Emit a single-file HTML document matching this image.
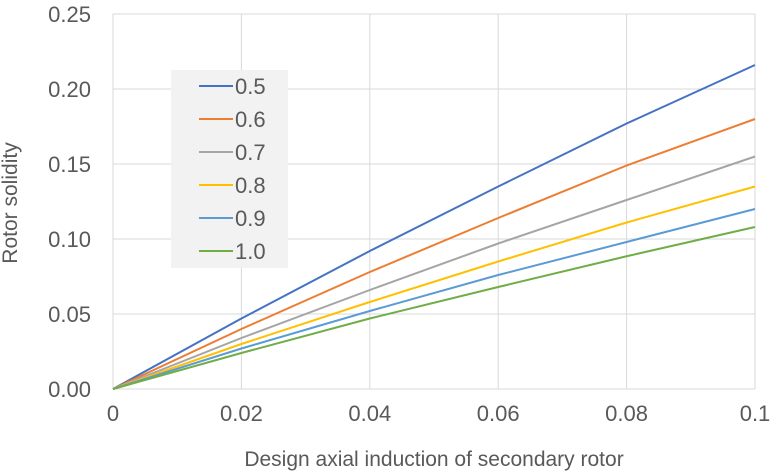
<!DOCTYPE html>
<html><head><meta charset="utf-8"><style>
body{margin:0;background:#fff;}
svg{display:block;font-family:"Liberation Sans",Arial,sans-serif;}
</style></head><body>
<svg id="chart" width="773" height="474"></svg>
<script>
const xVals=[0,0.02,0.04,0.06,0.08,0.1];
const seriesNames=["0.5","0.6","0.7","0.8","0.9","1.0"];
const s05=[0,0.047,0.092,0.135,0.177,0.216];
const s06=[0,0.040,0.078,0.114,0.149,0.180];
const s07=[0,0.034,0.066,0.097,0.126,0.155];
const s08=[0,0.030,0.058,0.085,0.111,0.135];
const s09=[0,0.027,0.052,0.076,0.098,0.120];
const s10=[0,0.024,0.047,0.068,0.0885,0.108];
const xTicks=["0","0.02","0.04","0.06","0.08","0.1"];
const yTicks=["0.00","0.05","0.10","0.15","0.20","0.25"];
const seriesVals=[s05,s06,s07,s08,s09,s10];
const colors=["#4472c4","#ed7d31","#a5a5a5","#ffc000","#5b9bd5","#70ad47"];
const NS="http://www.w3.org/2000/svg";
const svg=document.getElementById('chart');
const X0=113,X1=755,Y0=389,Y1=14;
const xs=v=>X0+(v/0.1)*(X1-X0);
const ys=v=>Y0-(v/0.25)*(Y0-Y1);
function mk(t,a,p){const e=document.createElementNS(NS,t);for(const k in a)e.setAttribute(k,a[k]);(p||svg).appendChild(e);return e;}
yTicks.forEach((t,i)=>{const v=i*0.05;const y=ys(v);
 const g=mk('line',{x1:X0,x2:X1,y1:y,y2:y,stroke:'#d9d9d9','stroke-width':1});
 
 
 const tx=mk('text',{x:91,y:y+8,'text-anchor':'end','font-size':22,fill:'#595959'});tx.textContent=t;
 
 
});
xTicks.forEach((t,i)=>{const x=xs(xVals[i]);
 const g=mk('line',{x1:x,x2:x,y1:Y1,y2:Y0,stroke:'#d9d9d9','stroke-width':1});
 
 
 const tx=mk('text',{x:x,y:421,'text-anchor':'middle','font-size':22,fill:'#595959'});tx.textContent=t;
 
 
});
seriesVals.forEach((s,k)=>{
 const p=mk('polyline',{points:s.map((v,i)=>xs(xVals[i])+','+ys(v)).join(' '),fill:'none',stroke:colors[k],'stroke-width':2});
 
 
});
const lg=mk('rect',{x:171,y:70,width:117,height:198,fill:'#f2f2f2'});


seriesNames.forEach((n,k)=>{const y=86+k*33;
 const l=mk('line',{x1:199,x2:233,y1:y,y2:y,stroke:colors[k],'stroke-width':2});
 
 
 const t=mk('text',{x:235,y:y+8,'font-size':22,fill:'#595959'});t.textContent=n;
 
 
});
const xt=mk('text',{x:434,y:466,'text-anchor':'middle','font-size':21,fill:'#595959'});xt.textContent="Design axial induction of secondary rotor";


const yt=mk('text',{x:17,y:203,'text-anchor':'middle','font-size':21,fill:'#595959',transform:'rotate(-90 17 203)'});yt.textContent="Rotor solidity";


</script>
</body></html>
